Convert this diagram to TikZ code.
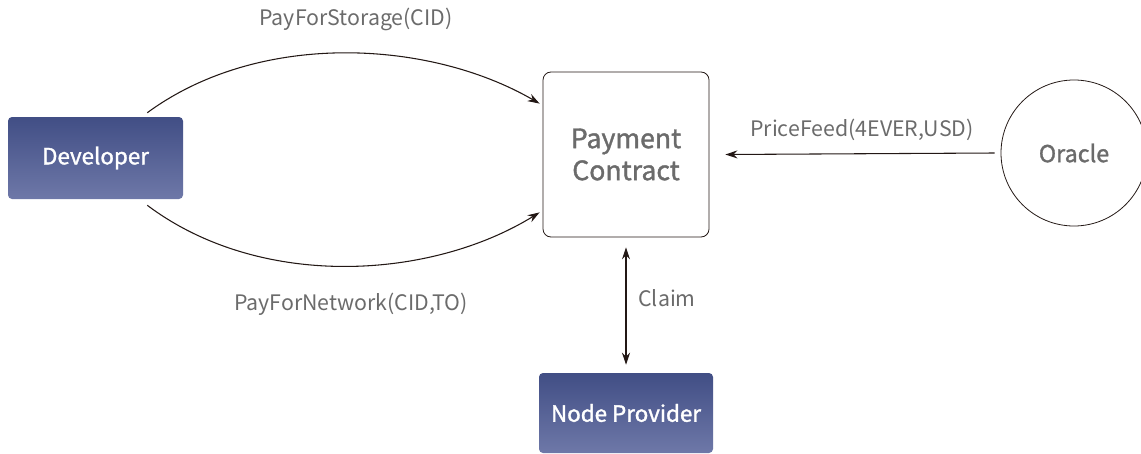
\documentclass[tikz,border=0pt]{standalone}
\usepackage{fontspec}
\setmainfont{Noto Sans CJK SC}
\newfontfamily\medfont{Noto Sans CJK SC}[FakeBold=1.4]
\usetikzlibrary{arrows.meta}
\definecolor{boxtop}{HTML}{414E85}
\definecolor{boxbot}{HTML}{6E78A8}
\definecolor{txtgray}{HTML}{6B6B6B}
\definecolor{lineclr}{HTML}{231815}
\begin{document}
\begin{tikzpicture}[x=0.75pt,y=-0.75pt,
  bluebox/.style={rounded corners=3pt, top color=boxtop, bottom color=boxbot, draw=none,
     text=white, font=\medfont\fontsize{16.8}{19}\selectfont, inner sep=0pt},
  conn/.style={draw=lineclr, line width=0.8pt, -{Stealth[length=9pt,width=6pt]}},
  lbl/.style={text=txtgray, font=\fontsize{16}{18}\selectfont}]
\useasboundingbox (0,0) rectangle (1141,453);
\node[bluebox, minimum width=131.25pt, minimum height=61.5pt] (dev) at (95.5,158) {Developer};
\node[draw=lineclr, line width=0.6pt, rounded corners=6pt, minimum width=124.5pt, minimum height=123.75pt,
  align=center, text=txtgray, font=\medfont\fontsize{20}{24}\selectfont] (pc) at (626,154.5) {Payment\\Contract};
\node[draw=lineclr, line width=0.6pt, circle, minimum size=109.5pt, text=txtgray,
  font=\medfont\fontsize{17.5}{19}\selectfont] (or) at (1074,153) {Oracle};
\node[bluebox, minimum width=130.5pt, minimum height=60pt] (np) at (626,413) {Node Provider};
\draw[conn] ([shift={(-36,-4)}]dev.north east) .. controls (260,30) and (430,40) .. ([shift={(-3,32)}]pc.north west);
\draw[conn] ([shift={(-36,6)}]dev.south east) .. controls (260,290) and (430,280) .. ([shift={(-3,-25)}]pc.south west);
\draw[conn] ([shift={(-6,0)}]or.west) -- ([shift={(16,0)}]pc.east);
\draw[draw=lineclr, line width=0.8pt, {Stealth[length=9pt,width=6pt]}-{Stealth[length=9pt,width=6pt]}]
  ([shift={(0,10)}]pc.south) -- ([shift={(0,-8)}]np.north);
\node[lbl] (l1) at (356,19) {PayForStorage(CID)};
\node[lbl] (l2) at (351,304) {PayForNetwork(CID,TO)};
\node[lbl] (l3) at (862,130) {PriceFeed(4EVER,USD)};
\node[lbl] (l4) at (667,298) {Claim};
\end{tikzpicture}
\end{document}
